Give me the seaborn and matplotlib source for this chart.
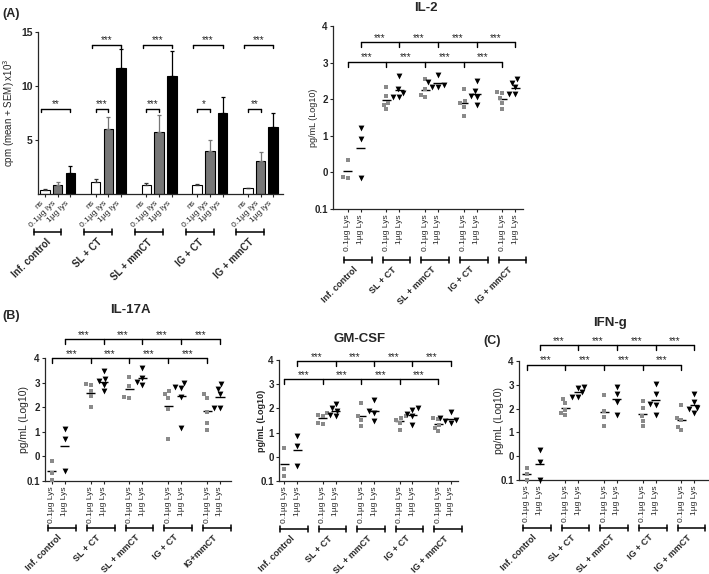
import numpy as np
import pandas as pd
import matplotlib
matplotlib.use("Agg")
import matplotlib.pyplot as plt
import matplotlib.transforms as mtransforms
import seaborn as sns

# Data

groups = ["Inf. control", "SL + CT", "SL + mmCT", "IG + CT", "IG + mmCT"]
groups_il17 = ["Inf. control", "SL + CT", "SL + mmCT", "IG + CT", "IG+mmCT"]

# (A) proliferation, cpm x10^3 (mean + SEM): ns, 0.1ug lys, 1ug lys per group
stim_labels = ["ns", "0.1µg lys", "1µg lys"]
cpm_mean = [[0.35, 0.80, 1.98],
            [1.11, 6.02, 11.70],
            [0.80, 5.77, 10.93],
            [0.80, 4.01, 7.47],
            [0.52, 3.06, 6.23]]
cpm_sem = [[0.08, 0.34, 0.58],
           [0.25, 1.14, 1.73],
           [0.25, 1.54, 2.27],
           [0.16, 0.99, 1.53],
           [0.08, 0.80, 1.24]]
# brackets inside each group: (from bar, to bar, stars)
cpm_sig = [[(0, 2, "**")],
           [(0, 1, "***"), (0, 2, "***")],
           [(0, 1, "***"), (0, 2, "***")],
           [(0, 1, "*"), (0, 2, "***")],
           [(0, 1, "**"), (0, 2, "***")]]

# cytokines, pg/mL (Log10), per group: 0.1ug Lys and 1ug Lys
dose_labels = ["0.1µg Lys", "1µg Lys"]
cyto_stars = ["***", "***", "***", "***"]

il2_low = [[0.35, -0.12, -0.15],
           [2.34, 2.09, 1.89, 1.83, 1.72],
           [2.54, 2.28, 2.12, 2.05],
           [2.29, 1.95, 1.89, 1.79, 1.54],
           [2.19, 2.18, 2.02, 1.90, 1.74]]
il2_high = [[1.22, 0.90, -0.15],
            [2.64, 2.27, 2.18, 2.07, 2.05],
            [2.67, 2.47, 2.38, 2.34, 2.34],
            [2.49, 2.22, 2.10, 2.07, 1.83],
            [2.54, 2.45, 2.32, 2.13, 2.13]]

il17_low = [[-0.19, -0.66, -0.96],
            [2.93, 2.90, 2.66, 2.45, 2.02],
            [3.24, 2.85, 2.42, 2.38],
            [2.66, 2.52, 2.36, 1.91, 0.70],
            [2.52, 2.36, 1.82, 1.37, 1.07]]
il17_high = [[1.10, 0.70, -0.58],
             [3.47, 3.13, 3.06, 2.90, 2.66],
             [3.58, 3.17, 3.03, 2.90],
             [3.00, 2.83, 2.79, 2.40, 1.17],
             [2.94, 2.74, 2.52, 1.95, 1.95]]

gm_low = [[0.36, -0.50, -0.81],
          [1.80, 1.74, 1.70, 1.39, 1.35],
          [2.22, 1.67, 1.53, 1.28],
          [1.67, 1.60, 1.53, 1.39, 1.12],
          [1.60, 1.56, 1.32, 1.21, 1.05]]
gm_high = [[0.84, 0.45, -0.40],
           [2.18, 2.01, 1.90, 1.74, 1.67],
           [2.36, 1.90, 1.79, 1.50],
           [2.01, 1.94, 1.76, 1.70, 1.32],
           [1.85, 1.60, 1.53, 1.46, 1.39]]

ifn_low = [[-0.48, -0.73, -1.00],
           [2.42, 2.24, 1.96, 1.82, 1.72],
           [2.59, 1.90, 1.65, 1.27],
           [2.31, 2.03, 1.68, 1.48, 1.27],
           [2.14, 1.62, 1.51, 1.23, 1.09]]
ifn_high = [[0.25, -0.24, -1.00],
            [2.91, 2.87, 2.68, 2.49, 2.49],
            [2.91, 2.63, 2.28, 1.72],
            [3.05, 2.63, 2.21, 2.14, 1.72],
            [2.63, 2.28, 2.04, 1.97, 1.83]]

log_ticks = [-1, 0, 1, 2, 3, 4]
log_tick_labels = ["0.1", "0", "1", "2", "3", "4"]

# Style

sns.set_style("ticks")
plt.rcParams["font.family"] = ["Liberation Sans", "DejaVu Sans"]
plt.rcParams["axes.linewidth"] = 0.9

W, H = 709, 574
fig = plt.figure(figsize=(W / 100, H / 100), dpi=100)


def add_axes(left, top, right, bottom):
    # pixel box, origin top-left
    return fig.add_axes([left / W, 1 - bottom / H, (right - left) / W, (bottom - top) / H])


def fig_text(x, y, s, **kw):
    fig.text(x / W, 1 - y / H, s, **kw)


def axes_height_px(ax):
    return ax.get_position().height * H


def group_brackets(ax, starts, ends, names, drop_px, fs, text_dx):
    h_px = axes_height_px(ax)
    trans = mtransforms.blended_transform_factory(ax.transData, ax.transAxes)
    yb = -drop_px / h_px
    cap = 3 / h_px
    for x0, x1, name in zip(starts, ends, names):
        ax.plot([x0, x1], [yb, yb], color="black", lw=1.1, transform=trans, clip_on=False)
        for xe in (x0, x1):
            ax.plot([xe, xe], [yb - cap, yb + cap], color="black", lw=1.1,
                    transform=trans, clip_on=False)
        ax.text((x0 + x1) / 2 + text_dx, yb - 5 / h_px, name, transform=trans,
                rotation=45, ha="right", va="top", fontsize=fs, fontweight="bold")


def sig_row(ax, xs, y, stars, tick, fs=7):
    ax.plot([xs[0], xs[-1]], [y, y], color="black", lw=1.0, clip_on=False)
    for x in xs:
        ax.plot([x, x], [y, y - tick], color="black", lw=1.0, clip_on=False)
    for a, b, s in zip(xs[:-1], xs[1:], stars):
        ax.text((a + b) / 2, y - tick * 0.2, s, ha="center", va="bottom", fontsize=fs)


# (A) proliferation bars

ax_a = add_axes(38, 32, 283, 194)
step_a = 4

bar_rows = []
for g in range(len(groups)):
    for k, lab in enumerate(stim_labels):
        bar_rows.append((g * step_a + k, cpm_mean[g][k], cpm_sem[g][k], lab))
df_bar = pd.DataFrame(bar_rows, columns=["pos", "cpm", "sem", "stim"])

sns.barplot(data=df_bar, x="pos", y="cpm", hue="stim", hue_order=stim_labels,
            palette=["white", "#777777", "black"], native_scale=True, dodge=False,
            width=0.75, saturation=1, edgecolor="black", linewidth=0.8,
            errorbar=None, legend=False, ax=ax_a)

err_colors = ["#333333", "#777777", "black"]
for k, lab in enumerate(stim_labels):
    sub = df_bar[df_bar["stim"] == lab]
    ax_a.errorbar(sub["pos"], sub["cpm"], yerr=[np.zeros(len(sub)), sub["sem"]],
                  fmt="none", ecolor=err_colors[k], elinewidth=0.9, capsize=1.6,
                  capthick=0.9, zorder=1)

tick_a = 3 * 15 / axes_height_px(ax_a)
for g, pairs in enumerate(cpm_sig):
    for i, (a, b, s) in enumerate(pairs):
        x0 = g * step_a + a - (0.3 if b == 2 else 0)
        x1 = g * step_a + b
        y = 7.9 if i == 0 else 13.8
        sig_row(ax_a, [x0, x1], y, [s], tick_a, fs=7)

ax_a.set_xlim(-0.55, 18.77)
ax_a.set_ylim(0, 15)
ax_a.set_yticks([5, 10, 15])
ax_a.set_yticklabels(["5", "10", "15"], fontsize=7.5, fontweight="bold")
ax_a.set_xticks(df_bar["pos"])
ax_a.set_xticklabels(df_bar["stim"], rotation=45, ha="right", fontsize=6)
ax_a.tick_params(length=2.5, width=0.8, pad=1.5)
ax_a.set_xlabel("")
ax_a.set_ylabel("cpm (mean + SEM) x10$^3$", fontsize=7)
ax_a.yaxis.set_label_coords(-0.084, 0.5)
sns.despine(ax=ax_a)

group_brackets(ax_a, [g * step_a - 0.9 for g in range(5)],
               [g * step_a + 1.3 for g in range(5)], groups, 38, 7, 0.45)

fig_text(2, 14, "(A)", fontsize=9, fontweight="bold", va="center")


# Cytokine dot plots

step = 3


def dot_panel(ax, low, high, names, xlim, y_low, y_high, ylabel_x, ylabel_fs,
              ylabel_bold, drop_px):
    rows = []
    for g in range(len(names)):
        for v in low[g]:
            rows.append((g * step, v, "low"))
        for v in high[g]:
            rows.append((g * step + 1, v, "high"))
    df = pd.DataFrame(rows, columns=["pos", "val", "dose"])

    sns.swarmplot(data=df[df["dose"] == "low"], x="pos", y="val", native_scale=True,
                  orient="x", color="#8a8a8a", marker="s", size=3.5, linewidth=0,
                  ax=ax)
    sns.swarmplot(data=df[df["dose"] == "high"], x="pos", y="val", native_scale=True,
                  orient="x", color="black", marker="v", size=4.2, linewidth=0, ax=ax)
    for coll in ax.collections:
        coll.set_clip_on(False)

    means = df.groupby("pos")["val"].mean()
    ax.hlines(means.values, means.index - 0.35, means.index + 0.35, color="black", lw=1)

    h_px = axes_height_px(ax)
    tick = 5 * 5 / h_px
    low_x = [g * step for g in range(len(names))]
    high_x = [g * step + 1 for g in range(len(names))]
    sig_row(ax, low_x, y_low, cyto_stars, tick)
    sig_row(ax, high_x, y_high, cyto_stars, tick)

    ax.set_xlim(*xlim)
    ax.set_ylim(-1, 4)
    ax.set_yticks(log_ticks)
    ax.set_yticklabels(log_tick_labels, fontsize=7, fontweight="bold")
    ax.set_xticks(low_x + high_x)
    ax.set_xticklabels([dose_labels[0]] * len(names) + [dose_labels[1]] * len(names),
                       rotation=90, fontsize=6)
    ax.tick_params(length=2.5, width=0.8, pad=1.2)
    ax.set_xlabel("")
    ax.set_ylabel("pg/mL (Log10)", fontsize=ylabel_fs,
                  fontweight="bold" if ylabel_bold else "normal")
    ax.yaxis.set_label_coords(ylabel_x, 0.5)
    sns.despine(ax=ax)

    group_brackets(ax, [g * step - 0.3 for g in range(len(names))],
                   [g * step + 1.85 for g in range(len(names))], names, drop_px, 6.5, 0.15)


ax_il2 = add_axes(333, 26, 523, 209)
dot_panel(ax_il2, il2_low, il2_high, groups, (-1.15, 13.6), 3.03, 3.57,
          -0.079, 6.5, False, 51)
fig_text(426, 8, "IL-2", fontsize=9.5, fontweight="bold", ha="center", va="center")

ax_17 = add_axes(45, 358, 231, 481)
dot_panel(ax_17, il17_low, il17_high, groups_il17, (-0.52, 13.85), 4.0, 4.76,
          -0.086, 7.5, False, 47)
fig_text(130, 310, "IL-17A", fontsize=9.5, fontweight="bold", ha="center", va="center")
fig_text(2, 316, "(B)", fontsize=9, fontweight="bold", va="center")

ax_gm = add_axes(279, 360, 458, 481)
dot_panel(ax_gm, gm_low, gm_high, groups, (-0.41, 13.55), 3.2, 3.96,
          -0.07, 6.5, True, 48)
fig_text(360, 339, "GM-CSF", fontsize=9.5, fontweight="bold", ha="center", va="center")

ax_ifn = add_axes(519, 361, 708, 480)
dot_panel(ax_ifn, ifn_low, ifn_high, groups, (-0.6, 14.06), 3.85, 4.67,
          -0.079, 7.5, False, 48)
fig_text(610, 323, "IFN-g", fontsize=9.5, fontweight="bold", ha="center", va="center")
fig_text(483, 341, "(C)", fontsize=9, fontweight="bold", va="center")

fig.savefig("out.png", dpi=100)
